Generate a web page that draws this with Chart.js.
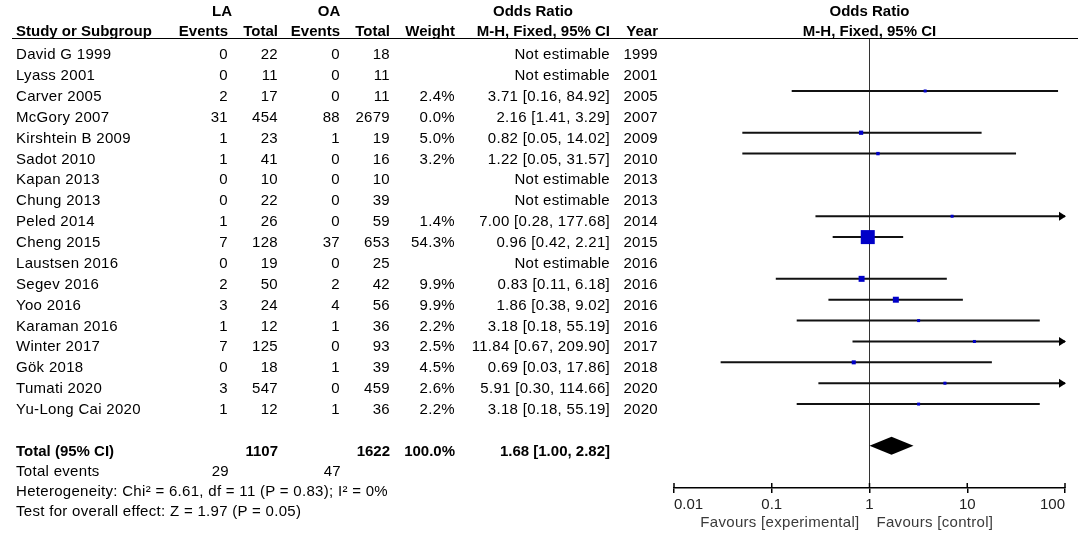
<!DOCTYPE html>
<html lang="en">
<head>
<meta charset="UTF-8">
<title>Forest plot: LA vs OA</title>
<script src="https://cdn.jsdelivr.net/npm/chart.js@4.4.0/dist/chart.umd.min.js"></script>
<style>
  html, body { margin: 0; padding: 0; background: #fff; }
  body {
    width: 1084px; height: 535px; position: relative; overflow: hidden;
    font-family: "Liberation Sans", Arial, sans-serif; font-size: 15px; color: #000;
  }
  #plot { position: absolute; left: 0; top: 0; }
  #table { position: absolute; left: 0; top: 0; width: 1084px; height: 535px; }
  .c { position: absolute; white-space: nowrap; line-height: 20px; height: 20px; letter-spacing: 0.3px; }
  .b { font-weight: bold; letter-spacing: 0; }
  .fav { color: #3a3a3a; }
  .rule { position: absolute; left: 12px; width: 1066px; top: 38px; height: 0; border-top: 1.5px solid #000; }
</style>
</head>
<body>
<canvas id="plot" width="1084" height="535"></canvas>
<div id="table"><div class="rule"></div></div>
<script>
// Study data
const studies  = ['David G 1999', 'Lyass 2001', 'Carver 2005', 'McGory 2007', 'Kirshtein B 2009', 'Sadot 2010',
                  'Kapan 2013', 'Chung 2013', 'Peled 2014', 'Cheng 2015', 'Laustsen 2016', 'Segev 2016',
                  'Yoo 2016', 'Karaman 2016', 'Winter 2017', 'Gök 2018', 'Tumati 2020', 'Yu-Long Cai 2020'];
const laEvents = [0, 0, 2, 31, 1, 1, 0, 0, 1, 7, 0, 2, 3, 1, 7, 0, 3, 1];
const laTotal  = [22, 11, 17, 454, 23, 41, 10, 22, 26, 128, 19, 50, 24, 12, 125, 18, 547, 12];
const oaEvents = [0, 0, 0, 88, 1, 0, 0, 0, 0, 37, 0, 2, 4, 1, 0, 1, 0, 1];
const oaTotal  = [18, 11, 11, 2679, 19, 16, 10, 39, 59, 653, 25, 42, 56, 36, 93, 39, 459, 36];
const weights  = [null, null, 2.4, 0.0, 5.0, 3.2, null, null, 1.4, 54.3, null, 9.9, 9.9, 2.2, 2.5, 4.5, 2.6, 2.2];
const oddsRatio = [null, null, 3.71, 2.16, 0.82, 1.22, null, null, 7.00, 0.96, null, 0.83, 1.86, 3.18, 11.84, 0.69, 5.91, 3.18];
const ciLow    = [null, null, 0.16, 1.41, 0.05, 0.05, null, null, 0.28, 0.42, null, 0.11, 0.38, 0.18, 0.67, 0.03, 0.30, 0.18];
const ciHigh   = [null, null, 84.92, 3.29, 14.02, 31.57, null, null, 177.68, 2.21, null, 6.18, 9.02, 55.19, 209.90, 17.86, 114.66, 55.19];
const years    = [1999, 2001, 2005, 2007, 2009, 2010, 2013, 2013, 2014, 2015, 2016, 2016, 2016, 2016, 2017, 2018, 2020, 2020];

// Pooled result
const totalLA = 1107, totalOA = 1622, totalEventsLA = 29, totalEventsOA = 47;
const totalOR = 1.68, totalLo = 1.00, totalHi = 2.82;
const heterogeneity = 'Heterogeneity: Chi² = 6.61, df = 11 (P = 0.83); I² = 0%';
const overallTest = 'Test for overall effect: Z = 1.97 (P = 0.05)';

// Axis
const tickValues = [0.01, 0.1, 1, 10, 100];
const tickLabels = ['0.01', '0.1', '1', '10', '100'];
const xMin = 0.01, xMax = 100;

const blue = '#0000c8';
const fontFamily = '"Liberation Sans", Arial, sans-serif';
const totalRow = studies.length + 1;
const yMin = -0.49, yMax = 21.02;

// only weighted studies get a mark
const drawn = studies.map((s, i) => weights[i] > 0);

function boxSide(w) {
    return Math.max(3, 1.9 * Math.sqrt(w));
}
function fmt(v) { return v.toFixed(2); }

const ciSets = [];
studies.forEach((s, i) => {
    if (!drawn[i]) return;
    ciSets.push({
        type: 'scatter',
        data: [{x: ciLow[i], y: i}, {x: Math.min(ciHigh[i], xMax), y: i}],
        showLine: true,
        borderColor: '#111',
        borderWidth: 2,
        pointRadius: 0,
        order: 2
    });
});

const squares = {
    type: 'scatter',
    data: studies.map((s, i) => drawn[i] ? {x: oddsRatio[i], y: i, w: weights[i]} : null).filter(Boolean),
    pointStyle: 'rect',
    pointRadius: ctx => ctx.raw ? boxSide(ctx.raw.w) / Math.SQRT2 : 2,
    backgroundColor: blue,
    borderColor: blue,
    borderWidth: 0,
    order: 0
};

const nullLine = {
    type: 'scatter',
    data: [{x: 1, y: yMin}, {x: 1, y: yMax}],
    showLine: true,
    borderColor: '#333',
    borderWidth: 1,
    pointRadius: 0,
    order: 3
};

// arrows for clipped CIs, pooled diamond, upper half of axis ticks
const forestExtras = {
    id: 'forestExtras',
    afterDatasetsDraw(chart) {
        const {ctx, scales: {x, y}} = chart;
        ctx.save();
        ctx.fillStyle = '#000';
        studies.forEach((s, i) => {
            if (!drawn[i] || ciHigh[i] <= xMax) return;
            const tip = x.getPixelForValue(xMax) + 1;
            const py = y.getPixelForValue(i);
            ctx.beginPath();
            ctx.moveTo(tip, py);
            ctx.lineTo(tip - 7, py - 4.5);
            ctx.lineTo(tip - 7, py + 4.5);
            ctx.closePath();
            ctx.fill();
        });

        const dy = y.getPixelForValue(totalRow);
        ctx.beginPath();
        ctx.moveTo(x.getPixelForValue(totalLo), dy);
        ctx.lineTo(x.getPixelForValue(totalOR), dy - 9);
        ctx.lineTo(x.getPixelForValue(totalHi), dy);
        ctx.lineTo(x.getPixelForValue(totalOR), dy + 9);
        ctx.closePath();
        ctx.fill();

        ctx.strokeStyle = '#000';
        ctx.lineWidth = 1.5;
        x.ticks.forEach(t => {
            const px = x.getPixelForValue(t.value);
            ctx.beginPath();
            ctx.moveTo(px, x.top);
            ctx.lineTo(px, x.top - 5);
            ctx.stroke();
        });
        ctx.restore();
    }
};

const chart = new Chart(document.getElementById('plot'), {
    type: 'scatter',
    data: { datasets: [squares, ...ciSets, nullLine] },
    options: {
        responsive: false,
        animation: false,
        events: [],
        layout: { padding: { left: 674, right: 19, top: 39, bottom: 0 } },
        plugins: { legend: { display: false }, tooltip: { enabled: false } },
        scales: {
            x: {
                type: 'logarithmic',
                min: xMin,
                max: xMax,
                position: 'bottom',
                afterBuildTicks: s => { s.ticks = tickValues.map(v => ({value: v})); },
                afterFit: s => { s.height = 47; },
                ticks: {
                    autoSkip: false,
                    maxRotation: 0,
                    align: 'inner',
                    padding: 3,
                    color: '#222',
                    font: { family: fontFamily, size: 15 },
                    callback: (v, idx) => tickLabels[idx]
                },
                grid: { display: true, drawOnChartArea: false, drawTicks: true, tickLength: 5, color: '#000', lineWidth: 1.5 },
                border: { display: true, color: '#000', width: 1.5 }
            },
            y: {
                type: 'linear',
                min: yMin,
                max: yMax,
                reverse: true,
                display: false
            }
        }
    },
    plugins: [forestExtras]
});

// Table text, placed on the chart's own row positions
const table = document.getElementById('table');
function cell(text, x, y, align, cls) {
    const d = document.createElement('div');
    d.className = 'c ' + (cls || '');
    d.textContent = text;
    d.style.top = (y - 10) + 'px';
    if (align === 'right') {
        d.style.right = (1084 - x) + 'px';
    } else if (align === 'center') {
        d.style.left = (x - 150) + 'px';
        d.style.width = '300px';
        d.style.textAlign = 'center';
    } else {
        d.style.left = x + 'px';
    }
    table.appendChild(d);
}

const yS = chart.scales.y, xS = chart.scales.x;
const rowY = i => yS.getPixelForValue(i) + 5;
const col = { name: 16, laEv: 228, laTot: 278, oaEv: 340, oaTot: 390, weight: 455, ci: 610, year: 658 };
const xOne = xS.getPixelForValue(1);

// headers
cell('LA', 222, 11, 'center', 'b');
cell('OA', 329, 11, 'center', 'b');
cell('Odds Ratio', 533, 11, 'center', 'b');
cell('Odds Ratio', xOne, 11, 'center', 'b');
cell('Study or Subgroup', col.name, 31, 'left', 'b');
cell('Events', col.laEv, 31, 'right', 'b');
cell('Total', col.laTot, 31, 'right', 'b');
cell('Events', col.oaEv, 31, 'right', 'b');
cell('Total', col.oaTot, 31, 'right', 'b');
cell('Weight', col.weight, 31, 'right', 'b');
cell('M-H, Fixed, 95% CI', col.ci, 31, 'right', 'b');
cell('Year', col.year, 31, 'right', 'b');
cell('M-H, Fixed, 95% CI', xOne, 31, 'center', 'b');

// study rows
studies.forEach((s, i) => {
    const y = rowY(i);
    cell(s, col.name, y, 'left');
    cell(String(laEvents[i]), col.laEv, y, 'right');
    cell(String(laTotal[i]), col.laTot, y, 'right');
    cell(String(oaEvents[i]), col.oaEv, y, 'right');
    cell(String(oaTotal[i]), col.oaTot, y, 'right');
    if (weights[i] !== null) cell(weights[i].toFixed(1) + '%', col.weight, y, 'right');
    const ciText = oddsRatio[i] === null ? 'Not estimable'
        : fmt(oddsRatio[i]) + ' [' + fmt(ciLow[i]) + ', ' + fmt(ciHigh[i]) + ']';
    cell(ciText, col.ci, y, 'right');
    cell(String(years[i]), col.year, y, 'right');
});

// totals
const ty = rowY(totalRow);
cell('Total (95% CI)', col.name, ty, 'left', 'b');
cell(String(totalLA), col.laTot, ty, 'right', 'b');
cell(String(totalOA), col.oaTot, ty, 'right', 'b');
cell('100.0%', col.weight, ty, 'right', 'b');
cell(fmt(totalOR) + ' [' + fmt(totalLo) + ', ' + fmt(totalHi) + ']', col.ci, ty, 'right', 'b');
cell('Total events', col.name, ty + 20.5, 'left');
cell(String(totalEventsLA), col.laEv + 1, ty + 20.5, 'right');
cell(String(totalEventsOA), col.oaEv + 1, ty + 20.5, 'right');
cell(heterogeneity, col.name, ty + 40.5, 'left');
cell(overallTest, col.name, ty + 60.5, 'left');

// favours labels under the axis
cell('Favours [experimental]', xOne - 10, 522, 'right', 'fav');
cell('Favours [control]', xOne + 7, 522, 'left', 'fav');
</script>
</body>
</html>
